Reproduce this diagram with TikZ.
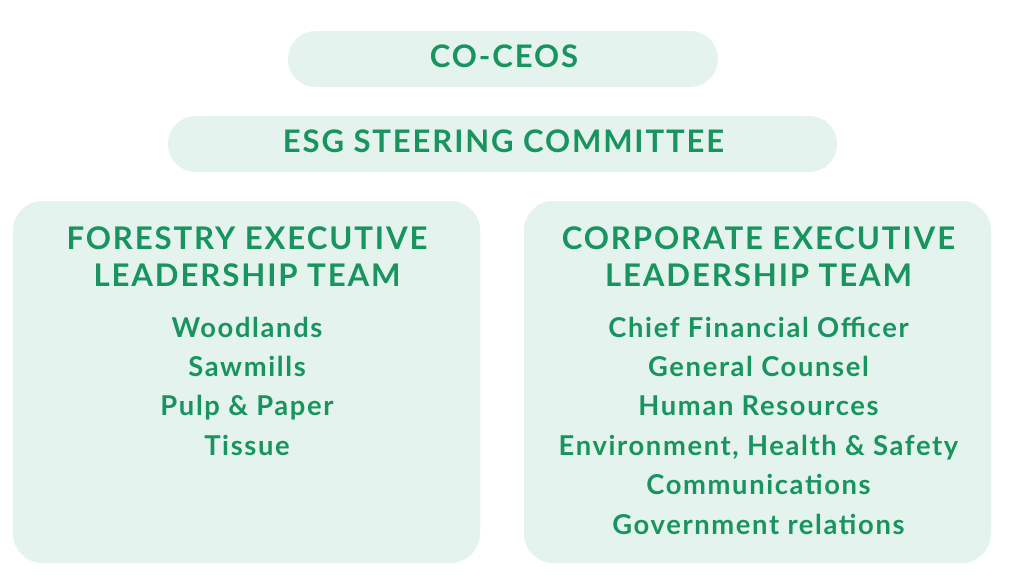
\documentclass[tikz,border=0pt]{standalone}
\usepackage{fontspec}
\newfontfamily\lato{Lato}[LetterSpace=6]
\definecolor{boxfill}{RGB}{229,243,238}
\definecolor{txt}{RGB}{24,148,94}
\begin{document}
\begin{tikzpicture}[x=0.75pt,y=-0.75pt,
  box/.style={fill=boxfill,draw=none,inner sep=0pt},
  pill/.style={box,rounded corners=20.9pt,minimum height=42pt},
  panel/.style={box,rounded corners=22pt,minimum width=350.25pt,minimum height=271.5pt},
  head/.style={anchor=base,text=txt,font=\lato\bfseries\fontsize{23.3}{27}\selectfont},
  ttl/.style={anchor=base,text=txt,font=\lato\bfseries\fontsize{23.4}{28}\selectfont},
  item/.style={anchor=base,text=txt,font=\lato\bfseries\fontsize{20.5}{24}\selectfont}]
\fill[white] (0,0) rectangle (1010,586);
\node[pill,minimum width=322.5pt] (ceo) at (503,59) {};
\node[pill,minimum width=501.75pt] (esg) at (502.5,144) {};
\node[panel] (fel) at (246.5,382) {};
\node[panel] (cel) at (757.5,382) {};
\node[head] (ceot) at (504,67) {CO-CEOS};
\node[head] (esgt) at (503.5,152) {ESG STEERING COMMITTEE};
\node[ttl] (felt1) at (247,249) {FORESTRY EXECUTIVE};
\node[ttl] (felt2) at (247,286) {LEADERSHIP TEAM};
\node[item] (f1) at (247,337) {Woodlands};
\node[item] (f2) at (247,376) {Sawmills};
\node[item] (f3) at (247,415) {Pulp \& Paper};
\node[item] (f4) at (247,455) {Tissue};
\node[ttl] (celt1) at (758.5,249) {CORPORATE EXECUTIVE};
\node[ttl] (celt2) at (758.5,286) {LEADERSHIP TEAM};
\node[item] (c1) at (758.5,337) {Chief Financial Officer};
\node[item] (c2) at (758.5,376) {General Counsel};
\node[item] (c3) at (758.5,415) {Human Resources};
\node[item] (c4) at (758.5,455) {Environment, Health \& Safety};
\node[item] (c5) at (758.5,494) {Communications};
\node[item] (c6) at (758.5,534) {Government relations};
\end{tikzpicture}
\end{document}
